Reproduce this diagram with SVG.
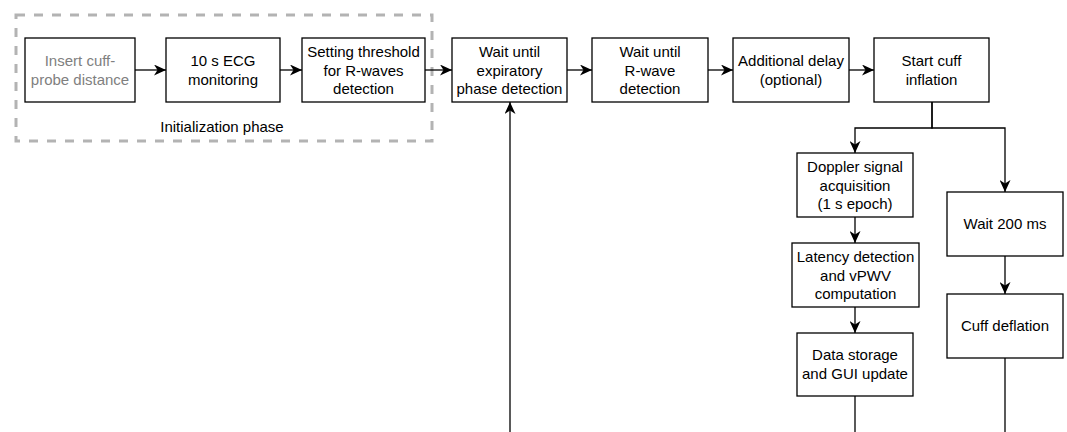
<svg xmlns="http://www.w3.org/2000/svg" width="1067" height="432" viewBox="0 0 1067 432">
<style>
.box{fill:#fff;stroke:#000;stroke-width:1.3}
.t{font-family:"Liberation Sans",Arial,Helvetica,sans-serif;font-size:15px;fill:#000;text-anchor:middle}
.g{fill:#808080}
.c{fill:none;stroke:#000;stroke-width:1.3}
</style>
<defs>
<marker id="ah" markerUnits="userSpaceOnUse" viewBox="0 0 12 11" refX="12" refY="5.5" markerWidth="12" markerHeight="11" orient="auto">
<path d="M0,0 L12,5.5 L0,11 L3.5,5.5 Z" fill="#000"/>
</marker>
</defs>
<g id="init-phase">
<rect x="16" y="15" width="416" height="126" fill="none" stroke="#B3B3B3" stroke-width="3" stroke-dasharray="9 9"/>
<text class="t" x="222" y="132">Initialization phase</text>
</g>
<g id="n1"><rect class="box" x="25" y="38" width="110" height="64"/><text class="t g" x="80" y="66">Insert cuff-</text><text class="t g" x="80" y="84.5">probe distance</text></g>
<g id="n2"><rect class="box" x="166" y="38" width="114" height="64"/><text class="t" x="223" y="66">10 s ECG</text><text class="t" x="223" y="84.5">monitoring</text></g>
<g id="n3"><rect class="box" x="302" y="38" width="123" height="64"/><text class="t" x="363.5" y="57">Setting threshold</text><text class="t" x="363.5" y="75.5">for R-waves</text><text class="t" x="363.5" y="94">detection</text></g>
<g id="n4"><rect class="box" x="452" y="38" width="115" height="64"/><text class="t" x="509.5" y="57">Wait until</text><text class="t" x="509.5" y="75.5">expiratory</text><text class="t" x="509.5" y="94">phase detection</text></g>
<g id="n5"><rect class="box" x="592" y="38" width="116" height="64"/><text class="t" x="650" y="57">Wait until</text><text class="t" x="650" y="75.5">R-wave</text><text class="t" x="650" y="94">detection</text></g>
<g id="n6"><rect class="box" x="733" y="38" width="116" height="64"/><text class="t" x="791" y="66">Additional delay</text><text class="t" x="791" y="84.5">(optional)</text></g>
<g id="n7"><rect class="box" x="874" y="38" width="115" height="64"/><text class="t" x="931.5" y="66">Start cuff</text><text class="t" x="931.5" y="84.5">inflation</text></g>
<g id="n8"><rect class="box" x="797" y="153" width="116" height="64"/><text class="t" x="855" y="172">Doppler signal</text><text class="t" x="855" y="190.5">acquisition</text><text class="t" x="855" y="209">(1 s epoch)</text></g>
<g id="n9"><rect class="box" x="792" y="243" width="127" height="64"/><text class="t" x="855.5" y="262">Latency detection</text><text class="t" x="855.5" y="280.5">and vPWV</text><text class="t" x="855.5" y="299">computation</text></g>
<g id="n10"><rect class="box" x="797" y="333" width="116" height="63"/><text class="t" x="855" y="360">Data storage</text><text class="t" x="855" y="378.5">and GUI update</text></g>
<g id="n11"><rect class="box" x="947" y="192" width="116" height="64"/><text class="t" x="1005" y="229">Wait 200 ms</text></g>
<g id="n12"><rect class="box" x="947" y="294" width="116" height="64"/><text class="t" x="1005" y="331">Cuff deflation</text></g>
<g id="connectors">
<path class="c" d="M135,70 H166" marker-end="url(#ah)"/>
<path class="c" d="M280,70 H302" marker-end="url(#ah)"/>
<path class="c" d="M425,70 H452" marker-end="url(#ah)"/>
<path class="c" d="M567,70 H592" marker-end="url(#ah)"/>
<path class="c" d="M708,70 H733" marker-end="url(#ah)"/>
<path class="c" d="M849,70 H874" marker-end="url(#ah)"/>
<path class="c" d="M932,102 V128 H855 V153" marker-end="url(#ah)"/>
<path class="c" d="M932,102 V128 H1005 V192" marker-end="url(#ah)"/>
<path class="c" d="M855,217 V243" marker-end="url(#ah)"/>
<path class="c" d="M855,307 V333" marker-end="url(#ah)"/>
<path class="c" d="M1005,256 V294" marker-end="url(#ah)"/>
<path class="c" d="M855,396 V432"/>
<path class="c" d="M1005,358 V432"/>
<path class="c" d="M510,432 V102" marker-end="url(#ah)"/>
</g>
</svg>
